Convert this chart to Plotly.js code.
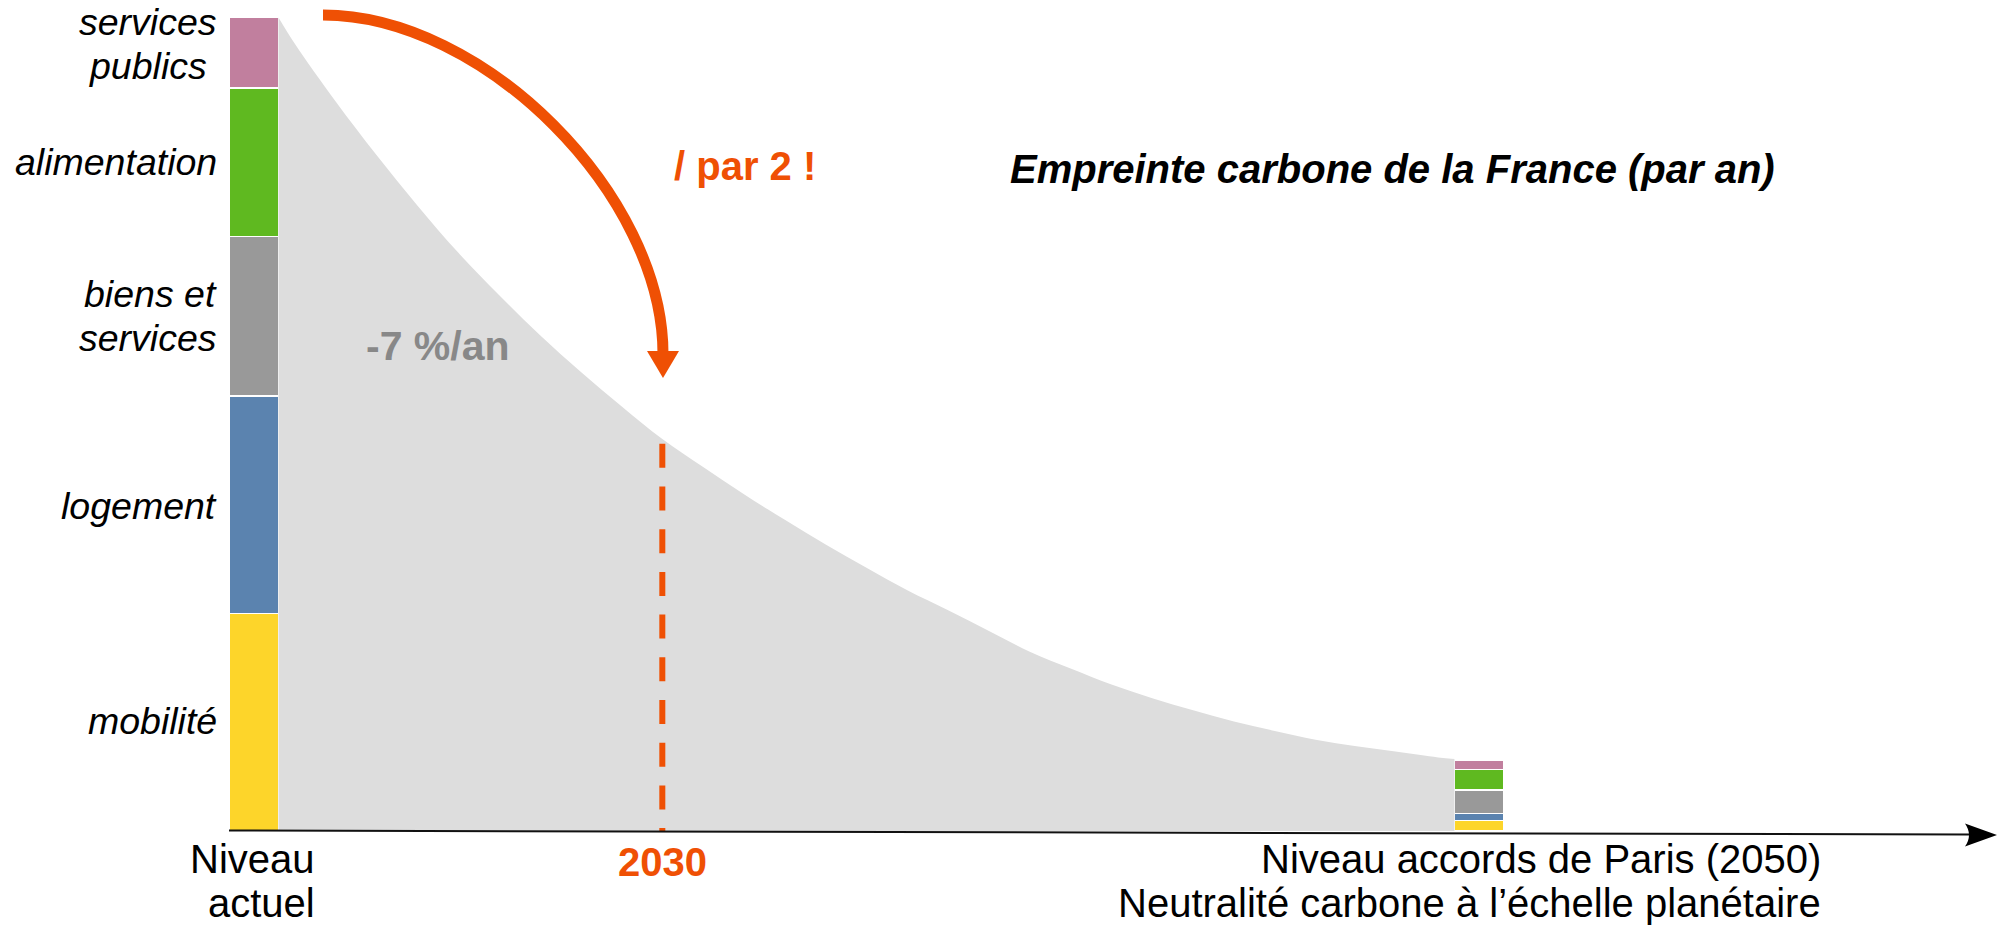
<!DOCTYPE html>
<html>
<head>
<meta charset="utf-8">
<script src="https://cdn.plot.ly/plotly-3.0.1.min.js"></script>
<style>
html,body{margin:0;padding:0;background:#ffffff;}
#chart{width:2002px;height:928px;}
</style>
</head>
<body>
<div id="chart"></div>
<script>
// ---------- data ----------
const categories = ['mobilité', 'logement', 'biens et services', 'alimentation', 'services publics'];
const categoryLabelLines = [['mobilité'], ['logement'], ['biens et', 'services'], ['alimentation'], ['services', 'publics\u00a0']];
const categoryColors = ['#FDD52A', '#5B83AF', '#999999', '#5FB920', '#C17F9E'];
const barPositions = [2020, 2050];
const currentLevel = [2.72, 2.72, 1.99, 1.86, 0.88];
const parisLevel = [0.13, 0.09, 0.29, 0.26, 0.12];

const pathYears = [2020.6, 2021, 2022, 2023, 2024, 2025, 2026, 2027, 2028, 2029,
                   2030, 2031, 2032, 2033, 2034, 2035, 2036, 2037, 2038, 2039,
                   2040, 2041, 2042, 2043, 2044, 2045, 2046, 2047, 2048, 2049, 2049.4];
const pathValues = [10.17, 9.84, 9.12, 8.45, 7.82, 7.23, 6.70, 6.20, 5.74, 5.31,
                    4.90, 4.55, 4.21, 3.89, 3.58, 3.29, 3.01, 2.76, 2.50, 2.24,
                    2.03, 1.83, 1.66, 1.51, 1.37, 1.25, 1.14, 1.06, 0.99, 0.92, 0.90];

const milestoneYear = 2030;
const milestoneTop = 4.84;
const xLabels = {
  current: ['Niveau', 'actuel'],
  milestone: '2030',
  paris: ['Niveau accords de Paris (2050)', 'Neutralité carbone à l\u2019échelle planétaire']
};
const titleText = 'Empreinte carbone de la France (par an)';
const rateText = '-7 %/an';
const halveText = '/ par 2 !';

// ---------- layout helpers ----------
const W = 2002, H = 928;
const ORANGE = '#EF5004';
const FONT = 'Liberation Sans, Arial, Helvetica, sans-serif';
function P(x, y) { return (x / W).toFixed(5) + ',' + (1 - y / H).toFixed(5); }
function px(x) { return x / W; }
function py(y) { return 1 - y / H; }

// ---------- traces ----------
const traces = [];
traces.push({
  type: 'scatter', mode: 'lines',
  x: pathYears, y: pathValues,
  line: {width: 0, shape: 'spline', smoothing: 1, color: '#DDDDDD'},
  fill: 'tozeroy', fillcolor: '#DDDDDD',
  hoverinfo: 'skip', showlegend: false
});
categories.forEach((c, i) => {
  traces.push({
    type: 'bar', name: c,
    x: barPositions, y: [currentLevel[i], parisLevel[i]],
    width: 1.225,
    marker: {color: categoryColors[i], line: {color: '#ffffff', width: 1.5}},
    showlegend: false, hoverinfo: 'skip'
  });
});

// ---------- annotations ----------
const annotations = [];
const labelShift = [-1, 1, 0, 0, -9];
let cum = 0;
categories.forEach((c, i) => {
  const mid = cum + currentLevel[i] / 2;
  cum += currentLevel[i];
  const lines = categoryLabelLines[i];
  lines.forEach((t, j) => {
    annotations.push({
      xref: 'paper', yref: 'y', x: px(219), y: mid,
      yshift: ((lines.length - 1) / 2 - j) * 44 - labelShift[i],
      xanchor: 'right', yanchor: 'middle', showarrow: false,
      text: t, font: {family: FONT, size: 37.5, color: '#000000', style: 'italic'}
    });
  });
});

xLabels.current.forEach((t, j) => {
  annotations.push({
    xref: 'x', yref: 'paper', x: barPositions[0], xshift: 63, y: py(859 + 44 * j),
    xanchor: 'right', yanchor: 'middle', showarrow: false,
    text: t, font: {family: FONT, size: 40, color: '#000000'}
  });
});
xLabels.paris.forEach((t, j) => {
  annotations.push({
    xref: 'x', yref: 'paper', x: barPositions[1], xshift: 344, y: py(859 + 44 * j),
    xanchor: 'right', yanchor: 'middle', showarrow: false,
    text: t, font: {family: FONT, size: 40, color: '#000000'}
  });
});
annotations.push({
  xref: 'x', yref: 'paper', x: milestoneYear, y: py(862),
  xanchor: 'center', yanchor: 'middle', showarrow: false,
  text: xLabels.milestone, font: {family: FONT, size: 40, color: ORANGE, weight: 'bold'}
});
annotations.push({
  xref: 'paper', yref: 'paper', x: px(1008), y: py(169),
  xanchor: 'left', yanchor: 'middle', showarrow: false,
  text: titleText, font: {family: FONT, size: 40, color: '#000000', weight: 'bold', style: 'italic'}
});
annotations.push({
  xref: 'paper', yref: 'paper', x: px(672), y: py(166),
  xanchor: 'left', yanchor: 'middle', showarrow: false,
  text: halveText, font: {family: FONT, size: 40, color: ORANGE, weight: 'bold'}
});
annotations.push({
  xref: 'paper', yref: 'paper', x: px(364), y: py(346),
  xanchor: 'left', yanchor: 'middle', showarrow: false,
  text: rateText, font: {family: FONT, size: 41, color: '#888888', weight: 'bold'}
});

// ---------- shapes ----------
const shapes = [
  // 2030 dashed marker
  {type: 'line', xref: 'x', yref: 'y', x0: milestoneYear, x1: milestoneYear, y0: milestoneTop, y1: 0,
   line: {color: ORANGE, width: 6, dash: '24px,18.7px'}, layer: 'above'},
  // horizontal axis line
  {type: 'line', xref: 'paper', yref: 'paper', x0: px(229), y0: py(830.5), x1: px(1970), y1: py(834.5),
   line: {color: '#111111', width: 2}, layer: 'above'},
  // axis arrowhead
  {type: 'path', xref: 'paper', yref: 'paper',
   path: 'M' + P(1965, 823.5) + ' L' + P(1997, 835) + ' L' + P(1965, 846.5) + ' Q' + P(1973, 835) + ' ' + P(1965, 823.5) + ' Z',
   fillcolor: '#000000', line: {width: 0}, layer: 'above'},
  // curved orange arrow
  {type: 'path', xref: 'paper', yref: 'paper',
   path: 'M' + P(323, 15) + ' C' + P(484, 15) + ' ' + P(663, 195) + ' ' + P(663, 354),
   line: {color: ORANGE, width: 11}, fillcolor: 'rgba(0,0,0,0)', layer: 'above'},
  {type: 'path', xref: 'paper', yref: 'paper',
   path: 'M' + P(647, 351) + ' L' + P(679, 351) + ' L' + P(663, 378) + ' Z',
   fillcolor: ORANGE, line: {width: 0}, layer: 'above'}
];

const layout = {
  width: W, height: H,
  margin: {l: 0, r: 0, t: 0, b: 0, pad: 0},
  paper_bgcolor: '#ffffff', plot_bgcolor: '#ffffff',
  barmode: 'stack',
  showlegend: false,
  xaxis: {range: [2013.779, 2062.81], visible: false, fixedrange: true},
  yaxis: {range: [-1.2125, 10.3875], visible: false, fixedrange: true},
  annotations: annotations,
  shapes: shapes,
  font: {family: FONT}
};

Plotly.newPlot('chart', traces, layout, {staticPlot: true, displayModeBar: false});
</script>
</body>
</html>
